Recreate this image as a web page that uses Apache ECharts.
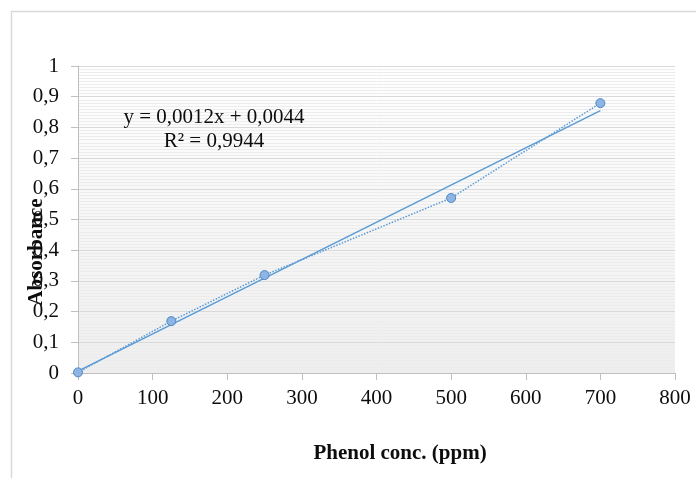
<!DOCTYPE html>
<html>
<head>
<meta charset="utf-8">
<script src="https://cdn.jsdelivr.net/npm/echarts@6/dist/echarts.min.js"></script>
<style>
    html, body { margin: 0; padding: 0; background: #fff; }
    #chart { width: 696px; height: 478px; }
</style>
</head>
<body>
<div id="chart"></div>
<script>
// measured points
var concPpm = [0, 125, 250, 500, 700];
var absorbance = [0.002, 0.169, 0.319, 0.570, 0.879];

// trend label as printed on the chart
var eqText = 'y = 0,0012x + 0,0044';
var r2Text = 'R² = 0,9944';

var xTicks = { min: 0, max: 800, step: 100 };
var yTicks = { min: 0, max: 1, step: 0.1 };

var serif = '"Liberation Serif", "Times New Roman", serif';
var blue = '#5b9bd5';
var ink = '#0d0d0d';

// least squares fit for the linear trendline
function linearFit(xs, ys) {
    var n = xs.length, mx = 0, my = 0, sxx = 0, sxy = 0;
    for (var i = 0; i < n; i++) { mx += xs[i]; my += ys[i]; }
    mx /= n; my /= n;
    for (var j = 0; j < n; j++) {
        sxx += (xs[j] - mx) * (xs[j] - mx);
        sxy += (xs[j] - mx) * (ys[j] - my);
    }
    var slope = sxy / sxx;
    return { slope: slope, icept: my - slope * mx };
}

var fit = linearFit(concPpm, absorbance);
var xFirst = concPpm[0], xLast = concPpm[concPpm.length - 1];
var trendData = [
    [xFirst, fit.icept + fit.slope * xFirst],
    [xLast, fit.icept + fit.slope * xLast]
];
var pointData = concPpm.map(function (x, i) { return [x, absorbance[i]]; });

var chart = echarts.init(document.getElementById('chart'));

chart.setOption({
    animation: false,
    grid: {
        left: 78, right: 21, top: 66, bottom: 105,
        show: true,
        borderWidth: 0,
        backgroundColor: new echarts.graphic.LinearGradient(0, 0, 0, 1, [
            { offset: 0, color: '#ffffff' },
            { offset: 1, color: '#eeeeee' }
        ])
    },
    xAxis: {
        type: 'value',
        min: xTicks.min, max: xTicks.max, interval: xTicks.step,
        axisLine: { lineStyle: { color: '#bfbfbf', width: 1 } },
        axisTick: { show: true, length: 7, lineStyle: { color: '#bfbfbf' } },
        axisLabel: { color: ink, fontFamily: serif, fontSize: 21, margin: 15 },
        splitLine: { show: false }
    },
    yAxis: {
        type: 'value',
        min: yTicks.min, max: yTicks.max, interval: yTicks.step,
        axisLine: { show: true, lineStyle: { color: '#bfbfbf', width: 1 } },
        axisTick: { show: true, length: 7, lineStyle: { color: '#bfbfbf' } },
        axisLabel: {
            color: ink, fontFamily: serif, fontSize: 21, margin: 19,
            formatter: function (v) { return String(+v.toFixed(1)).replace('.', ','); }
        },
        splitLine: { show: true, lineStyle: { color: '#d9d9d9', width: 1 } },
        minorTick: { show: false, splitNumber: 10 },
        minorSplitLine: { show: true, lineStyle: { color: '#ececec', width: 1 } }
    },
    series: [
        {
            // linear trendline
            type: 'line',
            data: trendData,
            showSymbol: false,
            symbol: 'none',
            lineStyle: { color: blue, width: 1.5 },
            z: 3
        },
        {
            type: 'line',
            data: pointData,
            symbol: 'circle',
            symbolSize: 9,
            lineStyle: { color: blue, width: 1.5, type: [1.5, 1.5] },
            itemStyle: { color: '#8db4e2', borderColor: '#4f86c6', borderWidth: 1 },
            z: 4
        }
    ],
    graphic: [
        {
            type: 'rect', left: 9, top: 9, z: 1,
            shape: { width: 720, height: 500 },
            style: { fill: 'none', stroke: '#d9d9d9', lineWidth: 1.5 },
            silent: true
        },
        {
            type: 'text', x: 214, y: 117, z: 100,
            style: {
                text: eqText, font: '21px ' + serif, fill: ink,
                align: 'center', verticalAlign: 'middle'
            }
        },
        {
            type: 'text', x: 214, y: 141, z: 100,
            style: {
                text: r2Text, font: '21px ' + serif, fill: ink,
                align: 'center', verticalAlign: 'middle'
            }
        },
        {
            type: 'text', x: 400, y: 454, z: 100,
            style: {
                text: 'Phenol conc. (ppm)', font: 'bold 21px ' + serif, fill: ink,
                align: 'center', verticalAlign: 'middle'
            }
        },
        {
            type: 'text', x: 37, y: 252, rotation: Math.PI / 2, z: 100,
            style: {
                text: 'Absorbance', font: 'bold 21px ' + serif, fill: ink,
                align: 'center', verticalAlign: 'middle'
            }
        }
    ]
});
</script>
</body>
</html>
